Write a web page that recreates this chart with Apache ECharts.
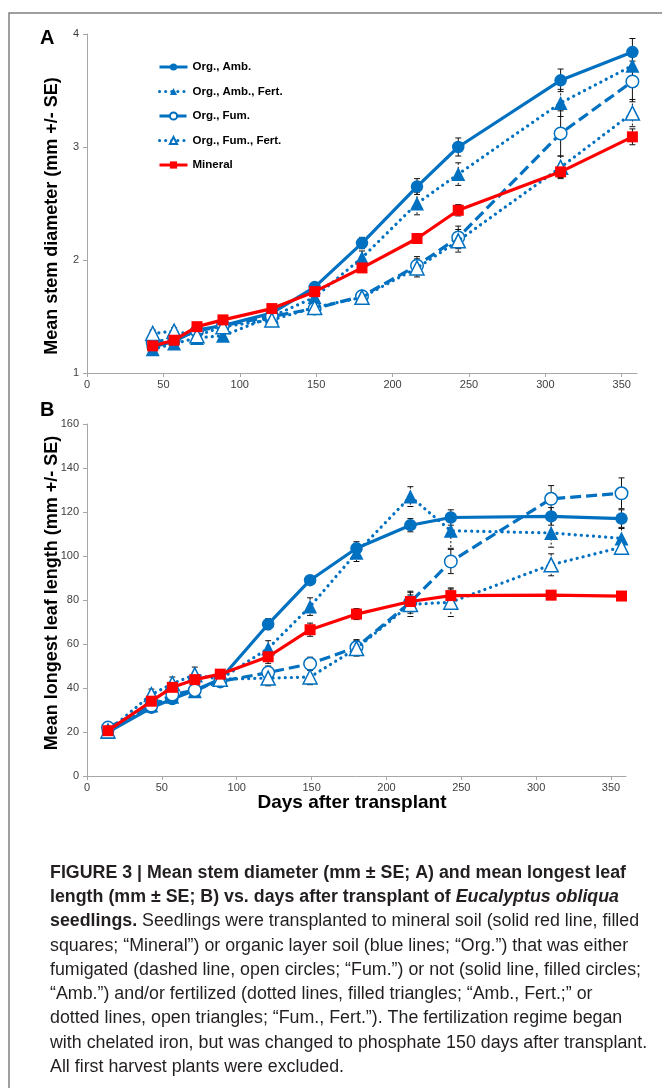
<!DOCTYPE html>
<html><head><meta charset="utf-8">
<script src="https://cdn.jsdelivr.net/npm/echarts@6/dist/echarts.min.js"></script>
<style>html,body{margin:0;padding:0;background:#fff}#c{width:662px;height:1088px}</style>
</head><body><div id="c"></div>
<script>
// ---------- DATA ----------
const seriesNames = ['Org., Amb.', 'Org., Amb., Fert.', 'Org., Fum.', 'Org., Fum., Fert.', 'Mineral'];
const xTicks = [0, 50, 100, 150, 200, 250, 300, 350];

// Panel A: mean stem diameter (mm)
const daysA = [43, 57, 72, 89, 121, 149, 180, 216, 243, 310, 357];
const stemAmb      = [1.23, 1.28, 1.38, 1.42, 1.53, 1.76, 2.15, 2.65, 3.00, 3.59, 3.84];
const stemAmbFert  = [1.21, 1.26, 1.31, 1.33, 1.50, 1.67, 2.02, 2.50, 2.76, 3.39, 3.72];
const stemFum      = [1.27, 1.31, 1.37, 1.42, 1.50, 1.57, 1.68, 1.95, 2.20, 3.12, 3.58];
const stemFumFert  = [1.35, 1.37, 1.33, 1.41, 1.47, 1.58, 1.67, 1.93, 2.17, 2.82, 3.30];
const stemMineral  = [1.24, 1.29, 1.41, 1.47, 1.57, 1.72, 1.93, 2.19, 2.44, 2.78, 3.09];
const stemAmbSE     = [0.03, 0.03, 0.03, 0.03, 0.03, 0.04, 0.05, 0.07, 0.08, 0.10, 0.12];
const stemAmbFertSE = [0.03, 0.03, 0.03, 0.03, 0.03, 0.04, 0.06, 0.10, 0.10, 0.12, 0.10];
const stemFumSE     = [0.03, 0.03, 0.03, 0.03, 0.03, 0.04, 0.05, 0.08, 0.10, 0.20, 0.18];
const stemFumFertSE = [0.03, 0.03, 0.03, 0.03, 0.03, 0.04, 0.05, 0.08, 0.10, 0.10, 0.12];
const stemMineralSE = [0.02, 0.02, 0.03, 0.03, 0.03, 0.03, 0.04, 0.04, 0.05, 0.05, 0.07];

// Panel B: mean longest leaf length (mm)
const daysB = [14, 43, 57, 72, 89, 121, 149, 180, 216, 243, 310, 357];
const leafAmb      = [20.0, 31.0, 35.0, 39.0, 44.0, 69.0, 89.0, 103.5, 114.0, 117.5, 118.0, 117.0];
const leafAmbFert  = [20.0, 32.0, 36.0, 38.5, 44.0, 58.0, 77.0, 101.5, 127.0, 111.5, 110.5, 108.0];
const leafFum      = [22.0, 32.0, 37.0, 39.0, 43.0, 47.0, 51.0, 58.5, 79.0, 97.5, 126.0, 128.5];
const leafFumFert  = [20.5, 37.0, 42.0, 46.0, 44.0, 44.5, 45.0, 58.0, 78.0, 79.0, 96.0, 104.0];
const leafMineral  = [20.6, 34.0, 40.3, 43.8, 46.3, 54.2, 66.5, 73.6, 79.3, 82.0, 82.2, 81.8];
const leafAmbSE     = [1.0, 1.2, 1.5, 1.5, 1.5, 2.5, 2.0, 3.0, 3.0, 3.5, 4.0, 4.0];
const leafAmbFertSE = [1.0, 1.5, 1.5, 1.5, 2.0, 3.5, 4.0, 4.0, 4.5, 8.0, 6.5, 4.5];
const leafFumSE     = [1.5, 1.5, 2.0, 2.0, 2.0, 3.0, 3.0, 3.5, 5.0, 5.5, 6.0, 7.0];
const leafFumFertSE = [1.5, 2.5, 3.0, 3.5, 2.0, 3.5, 3.5, 3.5, 5.5, 6.5, 5.0, 3.0];
const leafMineralSE = [1.0, 1.2, 1.5, 1.5, 2.0, 3.0, 3.0, 2.5, 3.0, 3.0, 1.5, 2.0];

const captionLines = [
  'FIGURE 3 | Mean stem diameter (mm \u00b1 SE; A) and mean longest leaf',
  '{b|length (mm \u00b1 SE; B) vs. days after transplant of }{bi|Eucalyptus obliqua}',
  '{b|seedlings.} Seedlings were transplanted to mineral soil (solid red line, filled',
  'squares; \u201cMineral\u201d) or organic layer soil (blue lines; \u201cOrg.\u201d) that was either',
  'fumigated (dashed line, open circles; \u201cFum.\u201d) or not (solid line, filled circles;',
  '\u201cAmb.\u201d) and/or fertilized (dotted lines, filled triangles; \u201cAmb., Fert.;\u201d or',
  'dotted lines, open triangles; \u201cFum., Fert.\u201d). The fertilization regime began',
  'with chelated iron, but was changed to phosphate 150 days after transplant.',
  'All first harvest plants were excluded.'
];

// ---------- STYLE ----------
const BLUE = '#0070C0', RED = '#FF0000';
const FONT = '"Liberation Sans", Arial, sans-serif';
const NARROW = '"Liberation Sans Narrow", "Arial Narrow", "Liberation Sans", Arial, sans-serif';
const DOT = [0.1, 6], DASH = [11, 5];
const styles = [
  {line: 'solid', symbol: 'circle', size: 12.5, fill: BLUE, color: BLUE, err: 'solid'},
  {line: DOT, symbol: 'triangle', size: 14, fill: BLUE, color: BLUE, err: [2, 2]},
  {line: DASH, symbol: 'circle', size: 12.5, fill: '#fff', color: BLUE, err: 'solid'},
  {line: DOT, symbol: 'triangle', size: 14, fill: '#fff', color: BLUE, err: [2, 2]},
  {line: 'solid', symbol: 'rect', size: 11, fill: RED, color: RED, err: 'solid'}
];

function errRender(dash) {
  return function (params, api) {
    const x = api.value(0), lo = api.value(1), hi = api.value(2);
    const a = api.coord([x, hi]), b = api.coord([x, lo]);
    const w = 3;
    const st = {stroke: '#111', lineWidth: 1, lineDash: dash === 'solid' ? null : dash};
    const cap = {stroke: '#111', lineWidth: 1};
    return {type: 'group', children: [
      {type: 'line', shape: {x1: a[0], y1: a[1], x2: b[0], y2: b[1]}, style: st},
      {type: 'line', shape: {x1: a[0] - w, y1: a[1], x2: a[0] + w, y2: a[1]}, style: cap},
      {type: 'line', shape: {x1: b[0] - w, y1: b[1], x2: b[0] + w, y2: b[1]}, style: cap}
    ]};
  };
}

function buildSeries(idx, days, vals, ses) {
  const out = [];
  vals.forEach((v, i) => {
    const s = styles[i];
    out.push({
      type: 'custom', name: seriesNames[i] + ' SE ' + idx, xAxisIndex: idx, yAxisIndex: idx,
      renderItem: errRender(s.err), z: 1, silent: true,
      data: days.map((d, k) => [d, v[k] - ses[i][k], v[k] + ses[i][k]])
    });
  });
  vals.forEach((v, i) => {
    const s = styles[i];
    out.push({
      type: 'line', name: seriesNames[i], xAxisIndex: idx, yAxisIndex: idx, z: 2 + i,
      data: days.map((d, k) => [d, v[k]]),
      symbol: s.symbol, symbolSize: s.size, showSymbol: true,
      lineStyle: {color: s.color, width: 3.2, type: s.line, cap: s.line === DOT ? 'round' : 'butt'},
      itemStyle: {color: s.fill, borderColor: s.color, borderWidth: s.fill === '#fff' ? 1.5 : 0},
      emphasis: {disabled: true}
    });
  });
  return out;
}

function xAxisCfg(idx) {
  return {
    type: 'value', gridIndex: idx, min: 0, max: 360, interval: 50,
    axisLine: {lineStyle: {color: '#A6A6A6', width: 1}},
    axisTick: {show: true, length: 4, inside: false, lineStyle: {color: '#A6A6A6'}, customValues: xTicks},
    axisLabel: {color: '#404040', fontSize: 11, fontFamily: NARROW, margin: 6, customValues: xTicks},
    splitLine: {show: false}
  };
}
function yAxisCfg(idx, min, max, interval) {
  return {
    type: 'value', gridIndex: idx, min: min, max: max, interval: interval,
    axisLine: {show: true, lineStyle: {color: '#A6A6A6', width: 1}},
    axisTick: {show: true, length: 4, lineStyle: {color: '#A6A6A6'}},
    axisLabel: {color: '#404040', fontSize: 11, fontFamily: NARROW, margin: 8},
    splitLine: {show: false}
  };
}

// caption horizontal compression to match condensed typeface
const mctx = document.createElement('canvas').getContext('2d');
mctx.font = 'bold 18px "Liberation Sans"';
const capScale = 576 / mctx.measureText(captionLines[0]).width;

const graphics = [
  {type: 'polyline', shape: {points: [[9, 1088], [9, 13], [662, 13]]}, style: {stroke: '#808080', lineWidth: 1.5, fill: null}, silent: true},
  {type: 'text', x: 40, y: 38, style: {text: 'A', font: 'bold 20px ' + FONT, fill: '#000', align: 'left', verticalAlign: 'middle'}},
  {type: 'text', x: 40, y: 410, style: {text: 'B', font: 'bold 20px ' + FONT, fill: '#000', align: 'left', verticalAlign: 'middle'}},
  {type: 'text', x: 52, y: 216, rotation: Math.PI / 2, style: {text: 'Mean stem diameter (mm +/- SE)', font: 'bold 18px ' + FONT, fill: '#000', align: 'center', verticalAlign: 'middle'}},
  {type: 'text', x: 52, y: 593, rotation: Math.PI / 2, style: {text: 'Mean longest leaf length (mm +/- SE)', font: 'bold 18px ' + FONT, fill: '#000', align: 'center', verticalAlign: 'middle'}},
  {type: 'text', x: 352, y: 803, style: {text: 'Days after transplant', font: 'bold 19px ' + FONT, fill: '#000', align: 'center', verticalAlign: 'middle'}}
];
captionLines.forEach((t, i) => {
  graphics.push({
    type: 'text', x: 50, y: 873 + i * 24.25, scaleX: capScale,
    style: {
      text: t, fontSize: 18, fontFamily: FONT, fontWeight: i === 0 ? 'bold' : 'normal',
      fill: '#231F20', align: 'left', verticalAlign: 'middle',
      rich: {
        b: {fontSize: 18, fontFamily: FONT, fontWeight: 'bold', fill: '#231F20'},
        bi: {fontSize: 18, fontFamily: FONT, fontWeight: 'bold', fontStyle: 'italic', fill: '#231F20'}
      }
    }
  });
});

const chart = echarts.init(document.getElementById('c'), null, {renderer: 'canvas'});
chart.setOption({
  animation: false,
  backgroundColor: '#fff',
  grid: [
    {left: 87, top: 34, width: 550, height: 339},
    {left: 87, top: 424, width: 539, height: 352}
  ],
  xAxis: [xAxisCfg(0), xAxisCfg(1)],
  yAxis: [yAxisCfg(0, 1, 4, 1), yAxisCfg(1, 0, 160, 20)],
  legend: {
    data: seriesNames, orient: 'vertical', left: 153, top: 56,
    itemWidth: 28, itemHeight: 9, itemGap: 12.5,
    lineStyle: {width: 3},
    textStyle: {fontSize: 11.5, fontWeight: 'bold', fontFamily: FONT, color: '#000'},
    selectedMode: false
  },
  graphic: graphics,
  series: [
    ...buildSeries(0, daysA, [stemAmb, stemAmbFert, stemFum, stemFumFert, stemMineral],
                   [stemAmbSE, stemAmbFertSE, stemFumSE, stemFumFertSE, stemMineralSE]),
    ...buildSeries(1, daysB, [leafAmb, leafAmbFert, leafFum, leafFumFert, leafMineral],
                   [leafAmbSE, leafAmbFertSE, leafFumSE, leafFumFertSE, leafMineralSE])
  ]
});
</script></body></html>
